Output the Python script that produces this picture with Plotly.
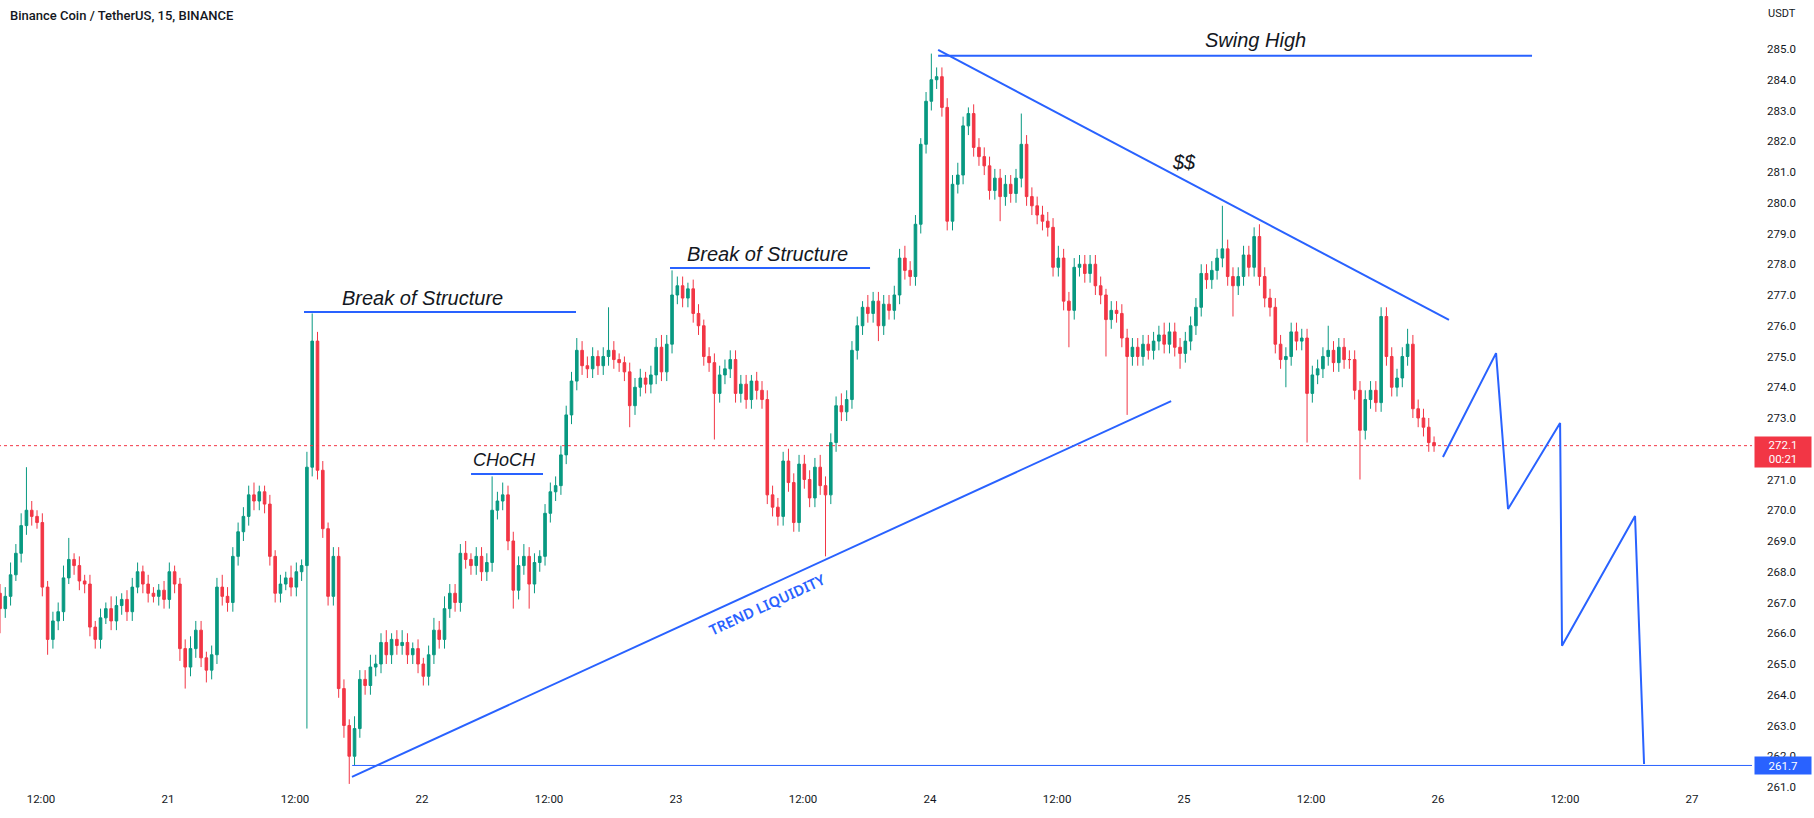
import pandas as pd
import plotly.graph_objects as go

# ---------------- data (30-min candles) ----------------
first_open = 267.3
closes = [
    266.8, 267.2, 267.9, 268.6, 269.5, 270.0, 269.8, 269.6, 267.5, 265.8, 266.4, 266.7,
    267.8, 268.4, 268.2, 267.7, 267.6, 266.2, 265.8, 266.5, 266.8, 266.4, 266.9, 267.1,
    266.7, 267.5, 268.0, 267.6, 267.3, 267.2, 267.4, 267.1, 268.0, 267.6, 265.5, 264.9,
    265.5, 266.1, 265.2, 264.8, 265.3, 267.5, 267.2, 267.0, 268.5, 269.3, 269.8, 270.5,
    270.3, 270.6, 270.2, 268.5, 267.3, 267.6, 267.8, 267.5, 268.0, 268.2, 271.4, 275.5,
    271.3, 269.4, 267.2, 268.5, 264.2, 263.0, 262.0, 262.9, 264.5, 264.3, 264.9, 265.0,
    265.7, 265.3, 265.8, 265.6, 265.7, 265.3, 265.5, 265.0, 264.6, 265.3, 266.1, 265.8,
    266.8, 267.3, 267.0, 268.6, 268.4, 268.2, 268.5, 268.0, 268.3, 270.0, 270.3, 270.5,
    269.0, 267.4, 268.2, 268.5, 267.6, 268.3, 268.5, 269.9, 270.6, 270.8, 271.8, 273.1,
    274.2, 275.2, 274.7, 274.6, 275.0, 274.7, 275.0, 275.2, 274.9, 274.8, 274.5, 273.4,
    274.0, 274.3, 274.1, 274.4, 275.3, 274.5, 275.4, 277.0, 277.3, 276.9, 277.2, 276.4,
    276.0, 275.0, 274.8, 273.8, 274.4, 274.6, 274.9, 273.8, 274.1, 273.6, 274.2, 273.9,
    273.6, 270.5, 270.1, 269.8, 271.6, 270.9, 269.6, 271.5, 271.0, 270.4, 271.4, 270.8,
    270.5, 272.2, 273.4, 273.2, 273.6, 275.2, 276.0, 276.6, 276.4, 276.8, 276.0, 276.7,
    276.5, 277.0, 278.2, 277.8, 277.6, 279.3, 281.9, 283.3, 284.0, 284.1, 283.1, 279.4,
    280.6, 280.9, 282.5, 282.9, 281.8, 281.5, 281.2, 280.4, 280.8, 280.2, 280.6, 280.3,
    280.8, 281.9, 280.2, 279.9, 279.6, 279.4, 279.2, 277.9, 278.2, 276.8, 276.5, 277.9,
    278.0, 277.7, 278.0, 277.3, 277.0, 276.2, 276.5, 276.4, 275.6, 275.0, 275.3, 275.0,
    275.4, 275.2, 275.5, 275.7, 275.4, 275.8, 275.3, 275.1, 275.5, 276.0, 276.6, 277.7,
    277.5, 277.8, 278.2, 278.5, 277.6, 277.3, 277.6, 278.3, 277.9, 278.9, 277.6, 276.9,
    276.6, 275.4, 274.9, 275.0, 275.8, 275.5, 275.6, 273.8, 274.4, 274.6, 275.0, 275.2,
    274.8, 275.3, 274.9, 274.9, 273.9, 272.6, 273.6, 273.9, 273.5, 276.3, 275.0, 274.0,
    274.3, 275.0, 275.4, 273.3, 273.0, 272.7, 272.2, 272.1,
]
upper_wick = [
    0.3, 0.3, 0.4, 0.3, 0.4, 1.4, 0.3, 0.2, 0.3, 0.2, 0.3, 0.3,
    0.4, 0.7, 0.2, 0.3, 0.2, 0.3, 0.2, 0.3, 0.2, 0.4, 0.3, 0.2,
    0.3, 0.3, 0.3, 0.2, 0.3, 0.2, 0.2, 0.3, 0.3, 0.2, 0.2, 0.3,
    0.4, 0.3, 0.3, 0.2, 0.3, 0.3, 0.4, 0.3, 0.3, 0.3, 0.3, 0.3,
    0.4, 0.2, 0.2, 0.3, 0.2, 0.3, 0.2, 0.4, 0.3, 0.2, 0.5, 0.9,
    0.3, 0.3, 0.2, 0.3, 0.3, 0.3, 0.2, 0.4, 0.3, 0.3, 0.4, 0.3,
    0.3, 0.4, 0.2, 0.3, 0.4, 0.3, 0.2, 0.3, 0.2, 0.3, 0.4, 0.3,
    0.4, 0.3, 0.3, 0.3, 0.4, 0.2, 0.3, 0.3, 0.3, 1.1, 0.3, 0.4,
    0.3, 0.3, 0.3, 0.4, 0.3, 0.3, 0.2, 0.3, 0.3, 0.3, 0.3, 0.3,
    0.3, 0.4, 0.3, 0.3, 0.3, 0.2, 0.3, 1.4, 0.3, 0.2, 0.2, 0.3,
    0.3, 0.3, 0.2, 0.3, 0.3, 0.4, 0.3, 0.8, 0.3, 0.3, 0.2, 0.3,
    0.3, 0.2, 0.3, 0.3, 0.3, 0.3, 0.3, 0.3, 0.3, 0.3, 0.2, 0.3,
    0.3, 0.3, 0.3, 0.3, 0.3, 0.4, 0.3, 0.3, 0.3, 0.3, 0.3, 0.4,
    0.3, 0.3, 0.3, 0.4, 0.3, 0.3, 0.3, 0.2, 0.4, 0.3, 0.3, 0.3,
    0.3, 0.3, 0.3, 0.4, 0.3, 0.3, 0.2, 0.3, 0.85, 0.3, 0.3, 0.3,
    0.3, 0.4, 0.3, 0.2, 0.3, 0.3, 0.3, 0.3, 0.3, 0.3, 0.3, 0.3,
    0.3, 1.0, 0.3, 0.3, 0.3, 0.3, 0.3, 0.3, 0.4, 0.3, 0.3, 0.3,
    0.3, 0.3, 0.3, 0.3, 0.3, 0.2, 0.3, 0.3, 0.3, 0.3, 0.3, 0.3,
    0.3, 0.3, 0.3, 0.3, 0.4, 0.3, 0.3, 0.3, 0.3, 0.3, 0.3, 0.3,
    0.3, 0.3, 0.3, 1.4, 0.3, 0.3, 0.3, 0.3, 0.3, 0.3, 0.4, 0.3,
    0.3, 0.3, 0.3, 0.3, 0.3, 0.3, 0.3, 0.3, 0.3, 0.3, 0.3, 0.8,
    0.3, 0.3, 0.3, 0.3, 0.3, 0.3, 0.3, 0.3, 0.3, 0.3, 0.3, 0.3,
    0.3, 0.3, 0.5, 0.3, 0.3, 0.3, 0.3, 0.2,
]
lower_wick = [
    0.8, 0.3, 0.3, 0.2, 0.3, 0.3, 0.3, 0.2, 0.3, 0.5, 0.3, 0.3,
    0.3, 0.2, 0.3, 0.3, 0.3, 0.3, 0.3, 0.3, 0.2, 0.3, 0.3, 0.3,
    0.3, 0.3, 0.2, 0.3, 0.3, 0.2, 0.3, 0.3, 0.3, 0.3, 0.4, 0.7,
    0.3, 0.3, 0.3, 0.4, 0.3, 0.3, 0.3, 0.3, 0.3, 0.3, 0.3, 0.3,
    0.3, 0.3, 0.3, 0.3, 0.3, 0.3, 0.2, 0.3, 0.3, 0.3, 5.3, 0.3,
    0.3, 0.3, 0.3, 0.3, 0.3, 0.4, 0.9, 0.3, 0.3, 0.3, 0.3, 0.3,
    0.3, 0.3, 0.3, 0.3, 0.3, 0.3, 0.3, 0.3, 0.3, 0.3, 0.3, 0.3,
    0.3, 0.3, 0.3, 0.3, 0.3, 0.3, 0.3, 0.3, 0.3, 0.3, 0.3, 0.3,
    0.3, 0.6, 0.3, 0.3, 0.8, 0.3, 0.3, 0.3, 0.3, 0.3, 0.3, 0.3,
    0.3, 0.3, 0.3, 0.3, 0.3, 0.3, 0.3, 0.3, 0.3, 0.3, 0.3, 0.7,
    0.3, 0.3, 0.3, 0.3, 0.3, 0.3, 0.3, 0.3, 0.3, 0.3, 0.3, 0.3,
    0.3, 0.3, 0.3, 1.5, 0.3, 0.3, 0.3, 0.3, 0.3, 0.3, 0.3, 0.3,
    0.3, 0.3, 0.3, 0.3, 0.3, 0.3, 0.3, 0.3, 0.3, 0.3, 0.3, 0.3,
    2.0, 0.3, 0.3, 0.3, 0.3, 0.3, 0.3, 0.3, 0.3, 0.3, 0.5, 0.3,
    0.3, 0.3, 0.3, 0.3, 0.3, 0.3, 0.3, 0.3, 0.3, 0.3, 0.3, 0.3,
    0.3, 0.3, 0.3, 0.3, 0.3, 0.3, 0.3, 0.3, 0.3, 0.8, 0.3, 0.3,
    0.3, 0.3, 0.3, 0.3, 0.3, 0.3, 0.3, 0.3, 0.3, 0.3, 1.2, 0.3,
    0.3, 0.3, 0.3, 0.3, 0.3, 1.2, 0.3, 0.3, 0.3, 1.9, 0.3, 0.3,
    0.3, 0.3, 0.3, 0.3, 0.3, 0.3, 0.3, 0.5, 0.3, 0.3, 0.3, 0.3,
    0.3, 0.3, 0.3, 0.3, 0.3, 1.0, 0.3, 0.3, 0.3, 0.3, 0.3, 0.3,
    0.3, 0.3, 0.3, 0.9, 0.3, 0.3, 0.3, 1.6, 0.3, 0.3, 0.3, 0.3,
    0.3, 0.3, 0.3, 0.3, 0.3, 1.6, 0.3, 0.3, 0.3, 0.3, 0.3, 0.3,
    0.3, 0.3, 0.3, 0.3, 0.3, 0.3, 0.3, 0.2,
]
first_candle_time = "2022-11-20 08:07:30"
candle_minutes = 30

# drawings (time, price)
bos1_x = ["2022-11-21 12:51", "2022-11-22 14:33"]; bos1_y = [276.45, 276.45]
choch_x = ["2022-11-22 04:38", "2022-11-22 11:26"]; choch_y = [271.18, 271.18]
bos2_x = ["2022-11-22 23:26", "2022-11-23 18:20"]; bos2_y = [277.88, 277.88]
swing_x = ["2022-11-24 00:46", "2022-11-26 08:53"]; swing_y = [284.78, 284.78]
desc_x = ["2022-11-24 00:46", "2022-11-26 01:02"]; desc_y = [284.97, 276.19]
asc_x = ["2022-11-21 17:23", "2022-11-24 22:47"]; asc_y = [261.33, 273.55]
liq_x = ["2022-11-21 17:24", "2022-11-27 12:00"]; liq_y = [261.7, 261.7]
zig_x = ["2022-11-26 00:28", "2022-11-26 05:29", "2022-11-26 06:37", "2022-11-26 11:32",
         "2022-11-26 11:43", "2022-11-26 18:37", "2022-11-26 19:28"]
zig_y = [271.73, 275.11, 270.04, 272.84, 265.59, 269.81, 261.75]
last_price = 272.1
price_line_x = ["2022-11-20 00:00", "2022-11-28 00:00"]

labels = [
    ("Break of Structure", "2022-11-22 00:05", 276.90, 20),
    ("CHoCH", "2022-11-22 07:50", 271.63, 18),
    ("Break of Structure", "2022-11-23 08:36", 278.33, 20),
    ("Swing High", "2022-11-25 06:43", 285.29, 20),
    ("$$", "2022-11-25 00:00", 281.33, 20),
]
trend_label = ("TREND LIQUIDITY", "2022-11-23 08:36", 266.95, -24.7)

x_tick_vals = ["2022-11-20 12:00", "2022-11-21 00:00", "2022-11-21 12:00", "2022-11-22 00:00",
               "2022-11-22 12:00", "2022-11-23 00:00", "2022-11-23 12:00", "2022-11-24 00:00",
               "2022-11-24 12:00", "2022-11-25 00:00", "2022-11-25 12:00", "2022-11-26 00:00",
               "2022-11-26 12:00", "2022-11-27 00:00"]
x_tick_text = ["12:00", "21", "12:00", "22", "12:00", "23", "12:00", "24",
               "12:00", "25", "12:00", "26", "12:00", "27"]
# price-scale labels visible in the reference (272.0 is hidden by the last-price tag)
y_tick_vals = [261, 262, 263, 264, 265, 266, 267, 268, 269, 270, 271, 273, 274,
               275, 276, 277, 278, 279, 280, 281, 282, 283, 284, 285]
x_range = ["2022-11-20 08:07:33", "2022-11-27 05:40"]
y_range = [260.902, 286.593]

# ---------------- build ----------------
opens = [first_open] + closes[:-1]
highs = [max(o, c) + u for o, c, u in zip(opens, closes, upper_wick)]
lows = [min(o, c) - d for o, c, d in zip(opens, closes, lower_wick)]
times = pd.date_range(first_candle_time, periods=len(closes), freq=f"{candle_minutes}min")

GREEN = "#089981"
RED = "#f23645"
BLUE = "#2962ff"
TXT = "#131722"

fig = go.Figure()

fig.add_trace(go.Scatter(x=price_line_x, y=[last_price, last_price], mode="lines",
                         line=dict(color=RED, width=1, dash="dot"), hoverinfo="skip"))

fig.add_trace(go.Candlestick(
    x=times, open=opens, high=highs, low=lows, close=closes,
    increasing=dict(line=dict(color=GREEN, width=1), fillcolor=GREEN),
    decreasing=dict(line=dict(color=RED, width=1), fillcolor=RED),
    whiskerwidth=0, hoverinfo="skip"))

for xs, ys, w in [(bos1_x, bos1_y, 2), (choch_x, choch_y, 2), (bos2_x, bos2_y, 2),
                  (swing_x, swing_y, 2), (desc_x, desc_y, 2), (asc_x, asc_y, 2),
                  (liq_x, liq_y, 1), (zig_x, zig_y, 2)]:
    fig.add_trace(go.Scatter(x=xs, y=ys, mode="lines", line=dict(color=BLUE, width=w),
                             hoverinfo="skip"))

for text, x, y, size in labels:
    fig.add_annotation(x=x, y=y, xref="x", yref="y", text=text, showarrow=False,
                       xanchor="center", yanchor="middle",
                       font=dict(family="Liberation Sans", size=size, color=TXT,
                                 style="italic"))

fig.add_annotation(x=trend_label[1], y=trend_label[2], xref="x", yref="y",
                   text=trend_label[0], showarrow=False, textangle=trend_label[3],
                   xanchor="center", yanchor="middle",
                   font=dict(family="Noto Sans", size=14.5, color=BLUE, weight=600))

# title and axis labels
PW, PH = 1752, 790
fig.add_annotation(x=8 / PW, y=(PH - 16) / PH, xref="paper", yref="paper",
                   text="Binance Coin / TetherUS, 15, BINANCE", showarrow=False,
                   xanchor="left", yanchor="middle",
                   font=dict(family="Roboto", size=13, color=TXT, weight=500))
fig.add_annotation(x=1782 / PW, y=(PH - 14) / PH, xref="paper", yref="paper",
                   text="USDT", showarrow=False, xanchor="center", yanchor="middle",
                   font=dict(family="Roboto", size=11, color=TXT))
fig.add_annotation(x=1783 / PW, y=(PH - 452) / PH, xref="paper", yref="paper",
                   text=f"{last_price:.1f}<br>00:21", showarrow=False,
                   xanchor="center", yanchor="middle", bgcolor=RED, width=54, height=28,
                   borderpad=1, font=dict(family="Roboto", size=11.5, color="white"))
fig.add_annotation(x=1783 / PW, y=liq_y[0], xref="paper", yref="y",
                   text=f"{liq_y[0]:.1f}", showarrow=False,
                   xanchor="center", yanchor="middle", bgcolor=BLUE, width=54, height=15,
                   borderpad=1, font=dict(family="Roboto", size=11.5, color="white"))

fig.update_layout(
    width=1814, height=818,
    margin=dict(l=0, r=1814 - PW, t=0, b=818 - PH),
    paper_bgcolor="white", plot_bgcolor="white",
    showlegend=False,
    xaxis=dict(range=x_range, tickvals=x_tick_vals, ticktext=x_tick_text,
               showgrid=False, zeroline=False, showline=False, ticks="",
               rangeslider=dict(visible=False),
               tickfont=dict(family="Roboto", size=11.5, color=TXT)),
    yaxis=dict(range=y_range, side="right", tickvals=y_tick_vals, tickformat=".1f",
               showgrid=False, zeroline=False, showline=False, ticks="",
               ticklabelstandoff=14,
               tickfont=dict(family="Roboto", size=11.5, color=TXT)),
)

fig.write_html("out.html")
